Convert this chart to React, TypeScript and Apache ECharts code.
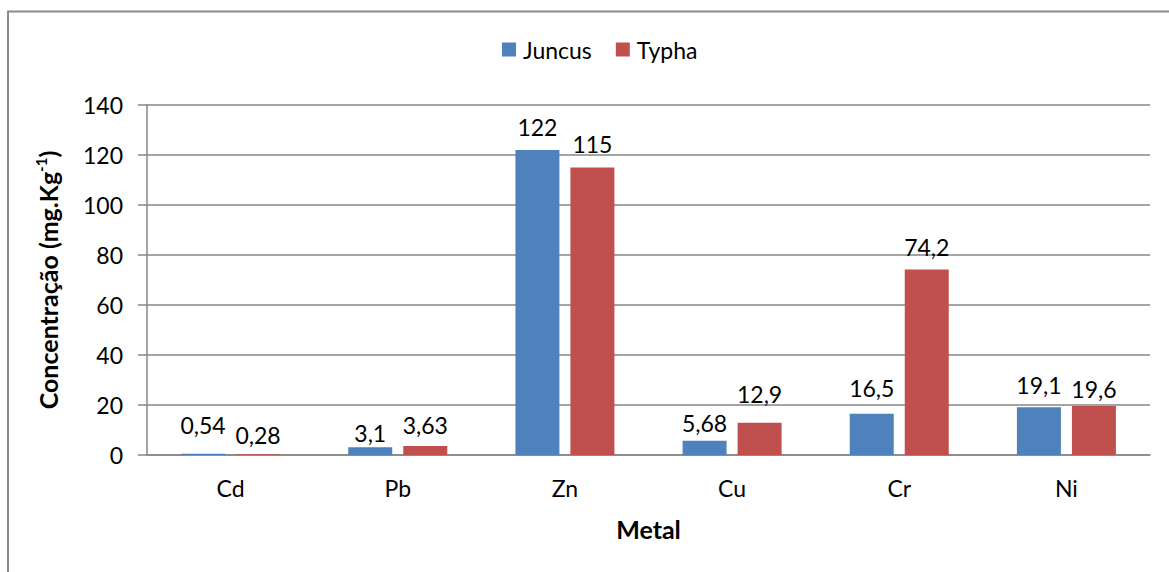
import React, { useEffect, useRef } from "react";
import * as echarts from "echarts";

const categories = ["Cd", "Pb", "Zn", "Cu", "Cr", "Ni"];
const juncus = [0.54, 3.1, 122, 5.68, 16.5, 19.1];
const typha = [0.28, 3.63, 115, 12.9, 74.2, 19.6];
const yTicks = { min: 0, max: 140, interval: 20 };

// vertical nudges of the data labels (pixels), as placed in the original
const juncusLabelNudge = [-6, 8, -1, 5, -3, 0];
const typhaLabelNudge = [3, 2, -1, -6, 0, 5];

const FONT = "Lato";
const fmt = (v: number) => String(v).replace(".", ",");

export default function App() {
  const ref = useRef<HTMLDivElement>(null);
  useEffect(() => {
    if (!ref.current) return;
    const chart = echarts.init(ref.current, undefined, { renderer: "svg" });
    const labelStyle = {
      show: true,
      position: "top" as const,
      distance: 11,
      fontFamily: FONT,
      fontSize: 23,
      color: "#000",
      formatter: (p: any) => fmt(p.value),
    };
    const withNudge = (vals: number[], nudge: number[]) =>
      vals.map((v, i) => ({ value: v, label: { offset: [0, nudge[i]] } }));
    chart.setOption({
      animation: false,
      backgroundColor: "#fff",
      textStyle: { fontFamily: FONT },
      graphic: [
        {
          type: "rect",
          shape: { x: 8, y: 11.5, width: 1300, height: 700 },
          style: { fill: "none", stroke: "#8a8a8a", lineWidth: 2 },
          silent: true,
        },
      ],
      legend: {
        top: 33,
        left: 497,
        itemWidth: 14,
        itemHeight: 14,
        itemGap: 24,
        icon: "rect",
        textStyle: { fontFamily: FONT, fontSize: 23, color: "#000", padding: [0, 0, 0, 2] },
        data: ["Juncus", "Typha"],
      },
      grid: { left: 147, right: 19, top: 105, bottom: 117 },
      xAxis: {
        type: "category",
        data: categories,
        name: "Metal",
        nameLocation: "middle",
        nameGap: 61,
        nameTextStyle: { fontFamily: FONT, fontSize: 25, fontWeight: "bold", color: "#000" },
        axisLine: { lineStyle: { color: "#868686", width: 1.5 } },
        axisTick: { show: false },
        axisLabel: { margin: 21, fontFamily: FONT, fontSize: 23, color: "#000" },
      },
      yAxis: {
        type: "value",
        min: yTicks.min,
        max: yTicks.max,
        interval: yTicks.interval,
        name: "{a|Concentração (mg.Kg}{s|-1}{a|)}",
        nameLocation: "middle",
        nameRotate: 90,
        nameGap: 84,
        nameTextStyle: {
          rich: {
            a: { fontFamily: FONT, fontSize: 25, fontWeight: "bold", color: "#000", lineHeight: 30 },
            s: { fontFamily: FONT, fontSize: 15, fontWeight: "bold", color: "#000", verticalAlign: "top", lineHeight: 30 },
          },
        },
        axisLine: { show: true, lineStyle: { color: "#868686", width: 1.5 } },
        axisTick: { show: true, length: 9, lineStyle: { color: "#868686", width: 1.5 } },
        axisLabel: { margin: 24, fontFamily: FONT, fontSize: 23, color: "#000" },
        splitLine: { lineStyle: { color: "#868686", width: 1.5 } },
      },
      series: [
        {
          name: "Juncus",
          type: "bar",
          data: withNudge(juncus, juncusLabelNudge),
          barWidth: 44,
          barGap: "25%",
          itemStyle: { color: "#4F81BD" },
          label: labelStyle,
        },
        {
          name: "Typha",
          type: "bar",
          data: withNudge(typha, typhaLabelNudge),
          barWidth: 44,
          barGap: "25%",
          itemStyle: { color: "#C0504D" },
          label: labelStyle,
        },
      ],
    });
    return () => chart.dispose();
  }, []);
  return (
    <div
      ref={ref}
      style={{ position: "fixed", left: 0, top: 0, width: 1169, height: 572 }}
    />
  );
}
